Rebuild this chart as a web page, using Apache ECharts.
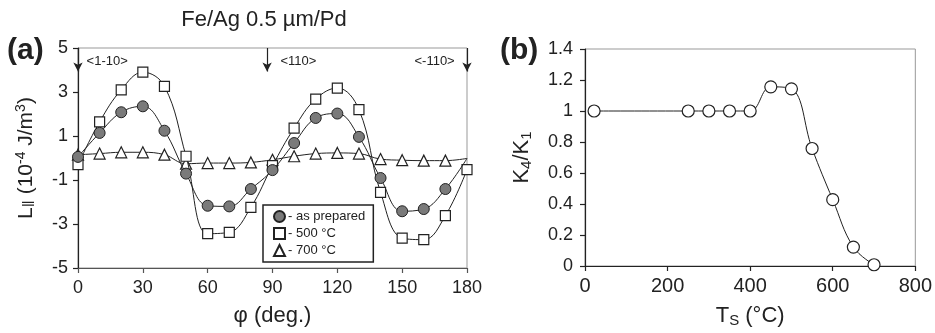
<!DOCTYPE html>
<html>
<head>
<meta charset="utf-8">
<script src="https://cdn.jsdelivr.net/npm/echarts@6/dist/echarts.min.js"></script>
<style>
    html, body { margin: 0; padding: 0; background: #fff; }
    #chart { width: 935px; height: 333px; }
</style>
</head>
<body>
<div id="chart"></div>
<script>
// (a) angle scan
var phi = [0, 10, 20, 30, 40, 50, 60, 70, 80, 90, 100, 110, 120, 130, 140, 150, 160, 170, 180];
var asPrepared = [0.05, 1.14, 2.08, 2.35, 1.24, -0.71, -2.17, -2.2, -1.41, -0.55, 0.68, 1.82, 2.02, 0.96, -0.91, -2.42, -2.32, -1.41, -0.02];
var t500 = [-0.3, 1.64, 3.1, 3.9, 3.26, 0.08, -3.44, -3.38, -2.24, -0.35, 1.36, 2.68, 3.18, 2.2, -1.56, -3.64, -3.71, -2.62, -0.53];
var t700 = [0.15, 0.2, 0.26, 0.26, 0.15, -0.26, -0.23, -0.23, -0.2, -0.08, 0.08, 0.2, 0.23, 0.2, -0.05, -0.1, -0.12, -0.12, -0.02];
var seriesNames = ['- as prepared', '- 500 °C', '- 700 °C'];
var legendIcons = ['circle', 'rect', 'triangle'];
var phiTicks = [0, 180, 30];
var lTicks = [-5, 5, 2];

// crystal directions marked with arrows
var dirAngles = [0, 87.5, 180];
var dirLabels = ['<1-10>', '<110>', '<-110>'];
var dirLabelAngles = [13.5, 102, 165];

// (b) K4/K1 vs annealing temperature
var ts = [22, 250, 300, 350, 400, 450, 500, 550, 600, 650, 700];
var k4k1 = [1.0, 1.0, 1.0, 1.0, 1.0, 1.156, 1.143, 0.758, 0.428, 0.122, 0.008];
var tsTicks = [0, 800, 200];
var kTicks = [0, 1.4, 0.2];

var FONT = 'Liberation Sans, Arial, sans-serif';
var INK = '#222';

function tickData(arr) {
    return { min: arr[0], max: arr[1], interval: arr[2] };
}

// last point of the two flat curves has no marker
function withoutLastSymbol(values) {
    return values.map(function (v, i) {
        var item = { value: [phi[i], v] };
        if (i === values.length - 1) {
            item.symbol = 'none';
        }
        return item;
    });
}

function axisBase(fontSize, lineColor) {
    return {
        axisLine: { show: true, onZero: false, lineStyle: { color: lineColor, width: 1.2 } },
        axisTick: { show: true, length: 5, lineStyle: { color: lineColor, width: 1.2 } },
        axisLabel: { color: INK, fontSize: fontSize, fontFamily: FONT },
        splitLine: { show: false },
        nameTextStyle: { color: INK, fontSize: 22, fontFamily: FONT }
    };
}

function merge(a, b) {
    var o = {};
    var k;
    for (k in a) { o[k] = a[k]; }
    for (k in b) { o[k] = b[k]; }
    return o;
}

var chart = echarts.init(document.getElementById('chart'), null, { renderer: 'canvas' });

var xA = tickData(phiTicks);
var yA = tickData(lTicks);
var xB = tickData(tsTicks);
var yB = tickData(kTicks);

var lineStyle = { color: INK, width: 1 };

chart.setOption({
    animation: false,
    backgroundColor: '#fff',
    textStyle: { fontFamily: FONT },
    title: [
        {
            text: 'Fe/Ag 0.5 µm/Pd',
            left: 259, top: 4, textAlign: 'center',
            textStyle: { fontSize: 22, fontWeight: 'normal', color: INK, fontFamily: FONT }
        },
        {
            text: '(a)',
            left: 2, top: 31,
            textStyle: { fontSize: 30, fontWeight: 'bold', color: INK, fontFamily: FONT }
        },
        {
            text: '(b)',
            left: 495, top: 31,
            textStyle: { fontSize: 30, fontWeight: 'bold', color: INK, fontFamily: FONT }
        }
    ],
    legend: {
        data: seriesNames.map(function (n, i) {
            return { name: n, icon: legendIcons[i] };
        }),
        left: 263, top: 205,
        orient: 'vertical',
        padding: [5, 8, 5, 10],
        itemGap: 4,
        itemWidth: 11, itemHeight: 11,
        borderColor: INK, borderWidth: 1.5,
        textStyle: { fontSize: 13, color: INK, fontFamily: FONT, padding: [0, 0, 0, -2] }
    },
    grid: [
        { left: 78, top: 48, width: 389, height: 220, show: true, borderColor: '#999', borderWidth: 1 },
        { left: 585, top: 49, width: 342, height: 218, show: true, borderColor: '#999', borderWidth: 1 }
    ],
    xAxis: [
        merge(axisBase(17, '#555'), {
            type: 'value', gridIndex: 0,
            min: xA.min, max: xA.max, interval: xA.interval,
            name: 'φ (deg.)', nameLocation: 'middle', nameGap: 37,
            axisLabel: { color: INK, fontSize: 18, fontFamily: FONT, margin: 11 }
        }),
        merge(axisBase(20, INK), {
            type: 'value', gridIndex: 1,
            min: xB.min, max: xB.max, interval: xB.interval,
            name: 'T{sub|S} (°C)', nameLocation: 'middle', nameGap: 37,
            axisLabel: { color: INK, fontSize: 20, fontFamily: FONT, margin: 10 },
            nameTextStyle: {
                color: INK, fontSize: 22, fontFamily: FONT,
                rich: { sub: { fontSize: 15, fontFamily: FONT, color: INK, padding: [10, 0, 0, 0] } }
            }
        })
    ],
    yAxis: [
        merge(axisBase(17, INK), {
            type: 'value', gridIndex: 0,
            min: yA.min, max: yA.max, interval: yA.interval,
            name: 'L{sub|‖} (10{sup|-4} J/m{sup|3})', nameLocation: 'middle', nameGap: 40,
            axisLabel: { color: INK, fontSize: 18, fontFamily: FONT, margin: 10 },
            nameTextStyle: {
                color: INK, fontSize: 21, fontFamily: FONT,
                rich: {
                    sup: { fontSize: 14, fontFamily: FONT, color: INK, padding: [0, 0, 10, 0] },
                    sub: { fontSize: 17, fontFamily: FONT, color: INK, padding: [6, 0, 0, 0] }
                }
            }
        }),
        merge(axisBase(18, INK), {
            type: 'value', gridIndex: 1,
            min: yB.min, max: yB.max, interval: yB.interval,
            name: 'K{sub|4}/K{sub|1}', nameLocation: 'middle', nameGap: 51,
            axisLabel: { color: INK, fontSize: 18, fontFamily: FONT, margin: 12 },
            nameTextStyle: {
                color: INK, fontSize: 22, fontFamily: FONT,
                rich: { sub: { fontSize: 15, fontFamily: FONT, color: INK, padding: [10, 0, 0, 0] } }
            }
        })
    ],
    series: [
        {
            name: seriesNames[1],
            type: 'line', xAxisIndex: 0, yAxisIndex: 0,
            smooth: 0.4,
            symbol: 'rect', symbolSize: 10,
            lineStyle: lineStyle,
            itemStyle: { color: '#fff', borderColor: INK, borderWidth: 1.2 },
            data: t500.map(function (v, i) { return [phi[i], v]; }),
            z: 3
        },
        {
            name: seriesNames[0],
            type: 'line', xAxisIndex: 0, yAxisIndex: 0,
            smooth: 0.4,
            symbol: 'circle', symbolSize: 11,
            lineStyle: lineStyle,
            itemStyle: { color: '#7a7a7a', borderColor: INK, borderWidth: 1 },
            data: withoutLastSymbol(asPrepared),
            z: 4
        },
        {
            name: seriesNames[2],
            type: 'line', xAxisIndex: 0, yAxisIndex: 0,
            smooth: 0.4,
            symbol: 'triangle', symbolSize: 11,
            lineStyle: lineStyle,
            itemStyle: { color: '#fff', borderColor: INK, borderWidth: 1.2 },
            data: withoutLastSymbol(t700),
            z: 2
        },
        {
            // direction arrows and labels
            name: 'dirs',
            type: 'line', xAxisIndex: 0, yAxisIndex: 0,
            data: [],
            silent: true,
            markLine: {
                silent: true,
                symbol: ['none', 'arrow'],
                symbolSize: [7, 9],
                label: { show: false },
                lineStyle: { color: INK, width: 1.2, type: 'solid' },
                data: dirAngles.map(function (a) {
                    return [{ coord: [a, yA.max] }, { coord: [a, 3.93] }];
                })
            },
            markPoint: {
                silent: true,
                symbol: 'circle', symbolSize: 0,
                label: {
                    show: true, position: 'inside', formatter: '{b}',
                    color: INK, fontSize: 13, fontFamily: FONT
                },
                data: dirLabels.map(function (t, i) {
                    return { name: t, coord: [dirLabelAngles[i], 4.38] };
                })
            }
        },
        {
            name: 'K4/K1',
            type: 'line', xAxisIndex: 1, yAxisIndex: 1,
            smooth: 0.4,
            symbol: 'circle', symbolSize: 12,
            lineStyle: lineStyle,
            itemStyle: { color: '#fff', borderColor: INK, borderWidth: 1.2 },
            data: ts.map(function (t, i) { return [t, k4k1[i]]; })
        }
    ]
});
</script>
</body>
</html>
